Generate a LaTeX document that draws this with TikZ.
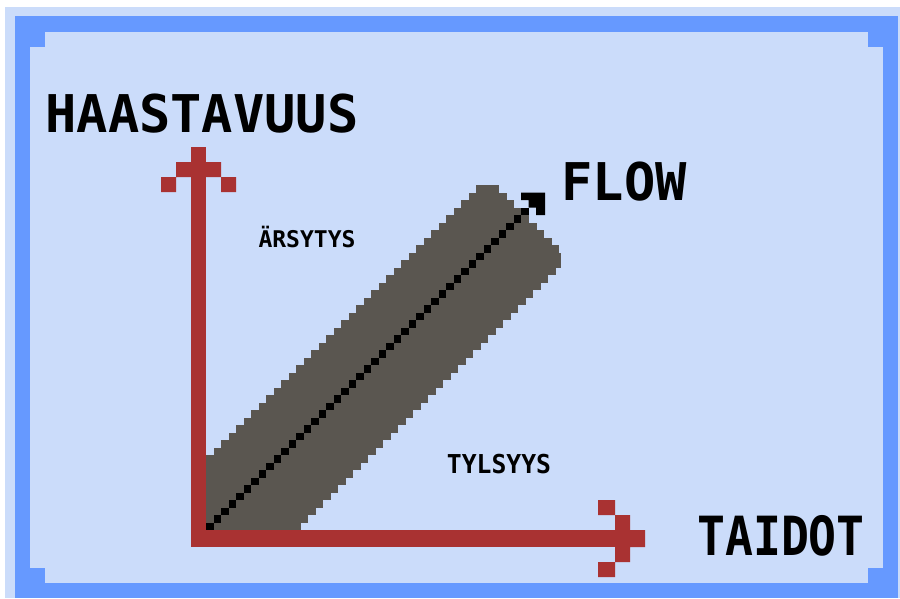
\documentclass[tikz,border=0pt]{standalone}
\usepackage{fontspec}
\newfontfamily\pixfont{DejaVu Sans Mono Bold}
\usetikzlibrary{positioning}
\definecolor{lightbg}{HTML}{CBDCFA}
\definecolor{frameblue}{HTML}{6699FF}
\definecolor{axisred}{HTML}{A93232}
\definecolor{bandgray}{HTML}{5A5650}
\tikzset{
  pixlabel/.style = {inner sep=0pt, anchor=base, text=black},
  bigpix/.style = {pixlabel, font=\pixfont\fontsize{52}{52}\selectfont},
  smallpix/.style = {pixlabel, font=\pixfont\fontsize{24}{24}\selectfont}
}
\begin{document}
\begin{tikzpicture}[x=1pt, y=-1pt]
  \useasboundingbox (0,0) rectangle (900,598);
  % frame
  \fill[white] (0,0) rectangle (900,598);
  \fill[lightbg] (5,7) rectangle (900,598);
  \fill[frameblue] (15,16) rectangle (898,598);
  \fill[lightbg] (30,32) rectangle (883,583);
  \foreach \cx/\cy in {30/32, 868/32, 30/568, 868/568}
    \fill[frameblue] (\cx,\cy) rectangle ++(15,15);
  % flow channel
  \foreach \i in {0,...,45} {
    \pgfmathsetmacro\ytop{185+7.5*\i}
    \pgfmathsetmacro\xl{max(206,476-7.5*\i)}
    \pgfmathsetmacro\xr{min(499+7.5*\i,561,823-\ytop)}
    \fill[bandgray] (\xl,\ytop) rectangle (\xr,\ytop+7.9);
  }
  \foreach \k in {0,...,42}
    \fill[black] (206+7.5*\k,522.5-7.5*\k) rectangle ++(7.5,7.5);
  \fill[black] (521,192.5) rectangle (545,200)
               (528.5,200) rectangle (545,207.5)
               (536,207.5) rectangle (545,215);
  % axes
  \fill[axisred] (191,147) rectangle (206,547);
  \fill[axisred] (191,530) rectangle (630,547);
  \fill[axisred] (176,162) rectangle (221,177)
                 (161,177) rectangle (176,192)
                 (221,177) rectangle (236,192);
  \fill[axisred] (630,530) rectangle (645,547)
                 (615,515) rectangle (630,562)
                 (598,500) rectangle (615,515)
                 (598,562) rectangle (615,577);
  % labels
  \node[bigpix] (haaste) at (202,132) {HAASTAVUUS};
  \node[bigpix] (flow) at (624,200) {FLOW};
  \node[bigpix, font=\pixfont\fontsize{54}{54}\selectfont] (taidot) at (781,555) {\scalebox{0.86}[1]{TAIDOT}};
  \node[smallpix, font=\pixfont\fontsize{23}{23}\selectfont] (arsytys) at (307,247) {ÄRSYTYS};
  \node[smallpix, font=\pixfont\fontsize{26}{26}\selectfont] (tylsyys) at (499,473) {\scalebox{0.95}[1]{TYLSYYS}};
\end{tikzpicture}
\end{document}
